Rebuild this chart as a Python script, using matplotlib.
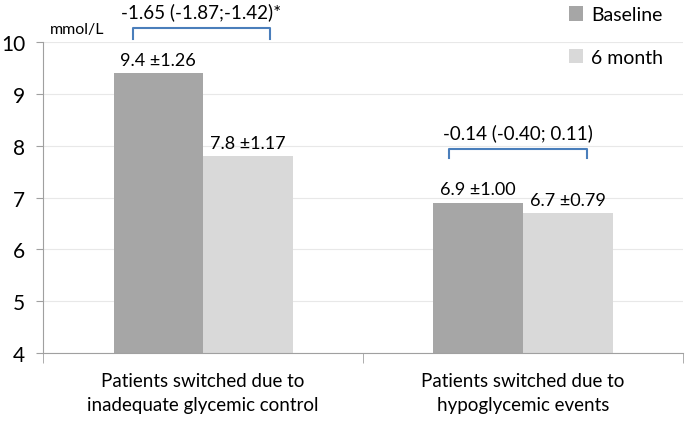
import matplotlib.pyplot as plt
import numpy as np

plt.rcParams['font.family'] = ['Lato', 'DejaVu Sans']

categories = ["Patients switched due to\ninadequate glycemic control",
              "Patients switched due to\nhypoglycemic events"]
baseline = [9.4, 6.9]
month6 = [7.8, 6.7]
baseline_sd = ["1.26", "1.00"]
month6_sd = ["1.17", "0.79"]
diff_labels = ["-1.65 (-1.87;-1.42)*", "-0.14 (-0.40; 0.11)"]

fig = plt.figure(figsize=(6.85, 4.27), dpi=100)
ax = fig.add_axes([0.063, 0.171, 0.934, 0.728])

x = np.arange(len(categories))
w = 0.28
ax.bar(x - w/2, baseline, w, color="#a6a6a6", label="Baseline", zorder=2)
ax.bar(x + w/2, month6, w, color="#d9d9d9", label="6 month", zorder=2)

for i in range(len(x)):
    ax.annotate(f"{baseline[i]} \u00b1{baseline_sd[i]}", (x[i] - w/2, baseline[i]),
                xytext=(0, 4), textcoords="offset points", ha="center", va="bottom", fontsize=13)
    ax.annotate(f"{month6[i]} \u00b1{month6_sd[i]}", (x[i] + w/2, month6[i]),
                xytext=(0, 4), textcoords="offset points", ha="center", va="bottom", fontsize=13)

# brackets with differences
brackets = [(-0.22, 0.21, 10.28, 10.06), (0.77, 1.2, 7.93, 7.77)]
for (x0, x1, ytop, ybot), lab in zip(brackets, diff_labels):
    ax.plot([x0, x0, x1, x1], [ybot, ytop, ytop, ybot], color="#4a7ebb", lw=1.5,
            clip_on=False, zorder=3)
    ax.text((x0 + x1) / 2, ytop + 0.15, lab, ha="center", va="bottom", fontsize=13.5,
            clip_on=False)

ax.text(-0.48, 10.25, "mmol/L", fontsize=11.5, ha="left", va="center")

ax.set_ylim(4, 10)
ax.set_xlim(-0.5, 1.5)
ax.set_yticks(range(4, 11))
ax.tick_params(axis="y", labelsize=15, length=5, color="#a0a0a0", pad=8)
ax.set_xticks(x)
ax.set_xticklabels(categories, fontsize=13.5, linespacing=1.5)
ax.tick_params(axis="x", which="major", length=0, pad=14)
ax.set_xticks([-0.5, 0.5, 1.5], minor=True)
ax.tick_params(axis="x", which="minor", length=7, color="#a0a0a0")
ax.grid(axis="y", color="#e8e8e8", lw=0.8, zorder=0)
for s in ["top", "right"]:
    ax.spines[s].set_visible(False)
for s in ["left", "bottom"]:
    ax.spines[s].set_color("#a0a0a0")

fig.legend(loc="upper right", bbox_to_anchor=(0.985, 1.01), frameon=False, fontsize=14,
           handlelength=0.75, handleheight=0.75, handletextpad=0.4, labelspacing=1.3,
           borderaxespad=0.2)

fig.savefig("out.png", dpi=100)
